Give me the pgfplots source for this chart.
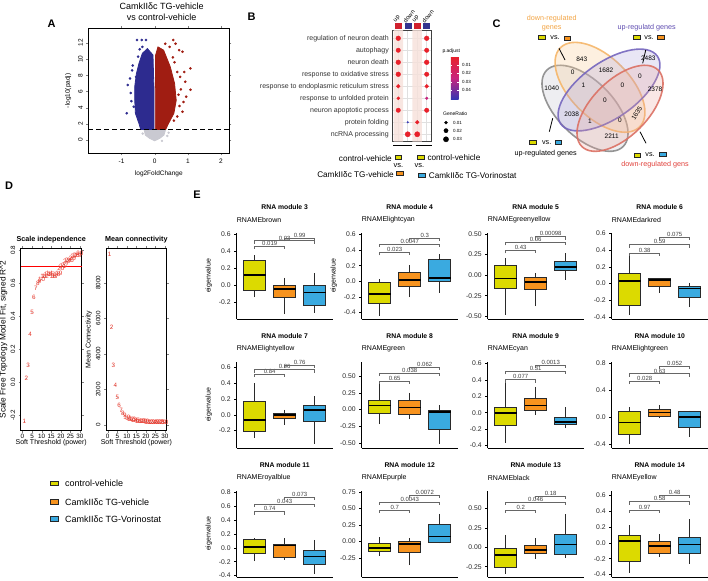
\documentclass[border=0pt]{standalone}
\usepackage{fontspec}
\setmainfont{Liberation Sans}
\usepackage{pgfplots}
\pgfplotsset{compat=1.18}
\usepgfplotslibrary{statistics}

\newcommand{\fsz}[1]{\fontsize{#1}{#1}\selectfont}

\definecolor{cy}{HTML}{DCDA00}
\definecolor{co}{HTML}{F7931E}
\definecolor{cb}{HTML}{3AAAE0}
\definecolor{boxl}{HTML}{2A2A2A}
\definecolor{vblue}{HTML}{2D2B8F}
\definecolor{vred}{HTML}{A01D12}
\definecolor{vgrey}{HTML}{C9C9D1}
\definecolor{dred}{HTML}{E8202A}
\definecolor{dmag}{HTML}{C8247E}
\definecolor{dblu}{HTML}{3C3CB8}
\definecolor{hred}{HTML}{D0202E}
\definecolor{hblu}{HTML}{34348F}
\definecolor{stripe}{HTML}{F6E0DA}
\definecolor{vgl}{HTML}{8A8A8A}
\definecolor{vgf}{HTML}{C8C8D2}
\definecolor{vol}{HTML}{F5B669}
\definecolor{vof}{HTML}{F8CC98}
\definecolor{vpl}{HTML}{7566BE}
\definecolor{vpf}{HTML}{A79BD8}
\definecolor{vrl}{HTML}{DB7063}
\definecolor{vrf}{HTML}{EBA49A}
\definecolor{tor}{HTML}{F2A444}
\definecolor{tpu}{HTML}{5E4CB0}
\definecolor{tre}{HTML}{E0403A}
\definecolor{wred}{HTML}{EA3A2E}

\pgfplotsset{
  /pgf/number format/assume math mode=true,
  eplot/.style={scale only axis, width=96pt, height=86pt, xmin=0.4, xmax=3.6,
    axis x line*=bottom, axis y line*=left, xtick=\empty,
    axis line style={line width=0.9pt, black},
    tick style={black, line width=0.6pt}, major tick length=2.5pt, tick align=outside,
    yticklabel style={font=\fsz{6.8}, text=black!85}, ylabel style={font=\fsz{7}},
    clip=false, boxplot/draw direction=y, boxplot/every median/.style={black, line width=1.6pt}},
  p1/.style={yticklabel style={/pgf/number format/fixed, /pgf/number format/fixed zerofill, /pgf/number format/precision=1}},
  p2/.style={yticklabel style={/pgf/number format/fixed, /pgf/number format/fixed zerofill, /pgf/number format/precision=2}},
  brk/.style={draw=black!60, line width=0.5pt, mark=none},
}
\tikzset{brlab/.style={font=\fsz{6}, text=black!75, anchor=south, inner sep=0.4pt},
  key/.style={draw=black!85, line width=0.7pt, fill=#1, minimum width=6.5pt, minimum height=4pt, inner sep=0pt},
  bigkey/.style={draw=black!85, line width=0.8pt, fill=#1, minimum width=8pt, minimum height=4.6pt, inner sep=0pt}}

\newcommand{\bx}[7]{\addplot[boxplot prepared={draw direction=y, draw position=#1, lower whisker=#2, lower quartile=#3, median=#4, upper quartile=#5, upper whisker=#6, box extend=0.73, whisker extend=0}, draw=boxl, fill=#7, line width=0.8pt] coordinates {};}
\newcommand{\br}[5]{%
  \pgfmathsetmacro\brlo{#3-#5}%
  \edef\brtmp{\noexpand\addplot[brk] coordinates {(#1,\brlo) (#1,#3) (#2,#3) (#2,\brlo)};}%
  \brtmp
  \node[brlab] at (axis cs:{(#1+#2)/2},#3) {#4};}
\newcommand{\etitle}[2]{%
  \node[font=\bfseries\fsz{6.8}, yshift=25.5pt] at (rel axis cs:0.5,1) {RNA module #1};
  \node[font=\fsz{7}, anchor=west, inner sep=0pt, yshift=13.5pt] at (rel axis cs:0,1) {RNAME#2};}

\begin{document}
\begin{tikzpicture}
\useasboundingbox (0,0) rectangle (708pt,-580pt);

% ================= A =================
\node[font=\bfseries\fsz{11}] at (51.7pt,-23.3pt) {A};
\node[font=\fsz{9}] at (161.7pt,-6pt) {CamkIIδc TG-vehicle};
\node[font=\fsz{9}] at (161.7pt,-17pt) {vs control-vehicle};
\begin{axis}[at={(88.3pt,-153.3pt)}, anchor=south west, scale only axis, width=141pt, height=125pt,
  xmin=-2.0, xmax=2.25, ymin=-1.64, ymax=13.8, xtick={-1,0,1,2}, ytick={0,2,4,6,8,10,12},
  tick align=outside, major tick length=2pt, ticklabel style={font=\fsz{6.5}},
  yticklabel style={rotate=90, anchor=south}, xlabel={log2FoldChange}, ylabel={-log10(padj)},
  label style={font=\fsz{6.5}}, axis line style={line width=0.6pt}, clip=false]
\addplot[fill=vgrey, draw=vgrey, line width=0.8pt] coordinates {(-0.32,1.3) (-0.28,0.6) (-0.15,0.2) (0,-0.1) (0.15,0.2) (0.28,0.6) (0.33,1.3) (-0.32,1.3)};
\addplot[only marks, mark=*, mark size=1.0pt, vgrey] coordinates {(0.42,0.9) (0.38,0.5) (-0.36,0.8) (0.22,-0.1)};
\addplot[fill=vblue, draw=vblue, line width=0.8pt] coordinates {(-0.02,1.3) (-0.42,1.3) (-0.47,2.0) (-0.58,3.3) (-0.6,4.9) (-0.6,6.6) (-0.55,8.2) (-0.47,9.5) (-0.37,10.7) (-0.22,11.3) (-0.05,10.5) (-0.02,6) (-0.02,1.3)};
\addplot[fill=vred, draw=vred, line width=0.8pt] coordinates {(0.02,1.3) (0.33,1.3) (0.42,2.06) (0.58,3.3) (0.65,4.9) (0.6,7.0) (0.47,9.05) (0.27,11.1) (0.1,11.5) (0.03,10.5) (0.02,6) (0.02,1.3)};
\addplot[only marks, mark=*, mark size=1.1pt, vblue] coordinates {(-0.84,3.3) (-0.81,6.8) (-0.74,7.6) (-0.68,8.6) (-0.72,5.8) (-0.63,4.1) (-0.53,12.35) (-0.39,12.35) (-0.26,12.35) (-0.37,11.5) (-0.26,10.9) (-0.56,7.8) (-0.66,9.2) (-0.5,10.3) (-0.7,4.8) (-0.45,11.2)};
\addplot[only marks, mark=*, mark size=1.1pt, vred] coordinates {(1.08,8.85) (1.08,6.2) (0.95,5.35) (0.87,4.7) (0.84,3.5) (0.79,6.25) (0.89,8.4) (0.68,8.4) (0.63,11.9) (0.56,12.35) (0.32,11.9) (0.74,11.1) (0.84,10.9) (0.77,7.8) (0.68,2.9) (0.58,2.4) (0.92,7.2) (0.45,11.5) (0.55,10.2) (0.72,5.6) (0.75,4.2) (0.6,9.6)};
\addplot[black, dash pattern=on 5pt off 3pt, line width=1.3pt] coordinates {(-2.0,1.3) (2.25,1.3)};
\end{axis}

% ================= B =================
\node[font=\bfseries\fsz{11}] at (251.7pt,-16.7pt) {B};
\begin{axis}[at={(392.3pt,-141.7pt)}, anchor=south west, scale only axis, width=39.4pt, height=111.7pt,
  xmin=0.37, xmax=4.53, ymin=0.31, ymax=9.62, y dir=reverse,
  xtick={1,2,3,4}, xticklabels={,,,}, ytick={1,2,3,4,5,6,7,8,9},
  yticklabels={regulation of neuron death, autophagy, neuron death, response to oxidative stress, response to endoplasmic reticulum stress, response to unfolded protein, neuron apoptotic process, protein folding, ncRNA processing},
  yticklabel style={font=\fsz{7}, text=black!80}, major tick length=0pt,
  grid=major, grid style={black!12, line width=0.5pt}, axis line style={black!75, line width=0.7pt}, clip=false]
\addplot[fill=stripe, draw=none, fill opacity=0.8] coordinates {(0.5,0.31) (1.5,0.31) (1.5,9.62) (0.5,9.62) (0.5,0.31)};
\addplot[fill=stripe, draw=none, fill opacity=0.8] coordinates {(2.5,0.31) (3.5,0.31) (3.5,9.62) (2.5,9.62) (2.5,0.31)};
\addplot[only marks, mark=*, mark size=2.35pt, dred] coordinates {(1,1) (4,1) (1,3) (1,4) (4,3)};
\addplot[only marks, mark=*, mark size=2.2pt, dred] coordinates {(1,2) (4,2) (4,4) (1,7) (4,7)};
\addplot[only marks, mark=*, mark size=1.9pt, dred] coordinates {(1,5) (4,5) (3,8)};
\addplot[only marks, mark=*, mark size=1.5pt, dred] coordinates {(1,6)};
\addplot[only marks, mark=*, mark size=1.3pt, dmag] coordinates {(4,6)};
\addplot[only marks, mark=*, mark size=0.75pt, dblu] coordinates {(2,8)};
\addplot[only marks, mark=*, mark size=2.6pt, dred] coordinates {(2,9) (3,9)};
% header keys
\addplot[only marks, mark=square*, mark size=3pt, mark options={yscale=0.75, draw=hred}, hred] coordinates {(1,-0.05) (3,-0.05)};
\addplot[only marks, mark=square*, mark size=3pt, mark options={yscale=0.75, draw=hblu}, hblu] coordinates {(2,-0.05) (4,-0.05)};
\node[rotate=50, anchor=south west, font=\fsz{6}, inner sep=0.3pt, xshift=-2.5pt] at (axis cs:1,-0.35) {up};
\node[rotate=50, anchor=south west, font=\fsz{6}, inner sep=0.3pt, xshift=-2.5pt] at (axis cs:2,-0.35) {down};
\node[rotate=50, anchor=south west, font=\fsz{6}, inner sep=0.3pt, xshift=-2.5pt] at (axis cs:3,-0.35) {up};
\node[rotate=50, anchor=south west, font=\fsz{6}, inner sep=0.3pt, xshift=-2.5pt] at (axis cs:4,-0.35) {down};
% underlines
\addplot[black, line width=1.1pt] coordinates {(0.47,9.95) (2.42,9.95)};
\addplot[black, line width=1.1pt] coordinates {(2.84,9.95) (4.53,9.95)};
% GeneRatio legend
\addplot[only marks, mark=*, mark size=1.5pt, black] coordinates {(6.04,8.03)};
\addplot[only marks, mark=*, mark size=2.1pt, black] coordinates {(6.04,8.7)};
\addplot[only marks, mark=*, mark size=2.6pt, black] coordinates {(6.04,9.42)};
\end{axis}
\begin{axis}[at={(442.3pt,-56.7pt)}, anchor=north west, scale only axis, width=7.7pt, height=42.6pt,
  axis line style={draw=none}, xtick=\empty, ytick=\empty, xmin=0, xmax=1, ymin=0, ymax=1,
  colorbar, colormap={padj}{rgb255=(232,32,42) rgb255=(200,36,126) rgb255=(52,52,178)},
  point meta min=0, point meta max=0.051,
  colorbar style={at={(parent axis.north west)}, anchor=north west, xshift=0pt, yshift=0pt,
    width=7.7pt, height=42.6pt, scale only axis, y dir=reverse, scaled y ticks=false,
    ytick={0.01,0.02,0.03,0.04}, yticklabels={0.01,0.02,0.03,0.04},
    yticklabel style={font=\fsz{4.5}}, major tick length=1.5pt, tick style={white, line width=0.5pt},
    axis line style={draw=none}}]
\addplot[draw=none] coordinates {(0,0) (1,1)};
\end{axis}
\node[font=\fsz{5}, anchor=west, inner sep=0pt] at (442.3pt,-51.7pt) {p.adjust};
\node[font=\fsz{5}, anchor=west, inner sep=0pt] at (443pt,-113.3pt) {GeneRatio};
\node[font=\fsz{4.5}, anchor=west, inner sep=0pt] at (453pt,-122.7pt) {0.01};
\node[font=\fsz{4.5}, anchor=west, inner sep=0pt] at (453pt,-130.7pt) {0.02};
\node[font=\fsz{4.5}, anchor=west, inner sep=0pt] at (453pt,-139.3pt) {0.03};
% B legend
\node[font=\fsz{8.2}, anchor=east, inner sep=0pt] at (392pt,-158.7pt) {control-vehicle};
\node[key=cy] at (398.3pt,-157.7pt) {};
\node[font=\fsz{7.5}, inner sep=0pt] at (398.5pt,-165.7pt) {vs.};
\node[font=\fsz{8.2}, anchor=east, inner sep=0pt] at (394pt,-174.3pt) {CamkIIδc TG-vehicle};
\node[key=co] at (400pt,-173.5pt) {};
\node[key=cy] at (420.7pt,-156.9pt) {};
\node[font=\fsz{8.2}, anchor=west, inner sep=0pt] at (427.3pt,-157.9pt) {control-vehicle};
\node[font=\fsz{7.5}, inner sep=0pt] at (419.5pt,-165.3pt) {vs.};
\node[key=cb] at (421.7pt,-175pt) {};
\node[font=\fsz{8.2}, anchor=west, inner sep=0pt] at (428.7pt,-175.3pt) {CamkIIδc TG-Vorinostat};

% ================= C =================
\node[font=\bfseries\fsz{11}] at (496.7pt,-23.3pt) {C};
\begin{axis}[at={(480pt,-180pt)}, anchor=south west, scale only axis, width=228pt, height=180pt,
  xmin=480, xmax=708, ymin=0, ymax=180, y dir=reverse, hide axis, clip=false]
\addplot[draw=none] coordinates {(480,0) (708,180)};
\draw[vgl, fill=vgf, fill opacity=0.3, draw opacity=0.9, line width=1.6pt, rotate around={-45:(axis cs:585,108.3)}] (axis cs:585,108.3) ellipse [x radius=54pt, y radius=28pt];
\draw[vol, fill=vof, fill opacity=0.3, draw opacity=0.9, line width=1.6pt, rotate around={-45:(axis cs:600,87.3)}] (axis cs:600,87.3) ellipse [x radius=56pt, y radius=30pt];
\draw[vpl, fill=vpf, fill opacity=0.25, draw opacity=0.9, line width=1.6pt, rotate around={35:(axis cs:609,90)}] (axis cs:609,90) ellipse [x radius=59pt, y radius=28pt];
\draw[vrl, fill=vrf, fill opacity=0.25, draw opacity=0.9, line width=1.6pt, rotate around={45:(axis cs:620,108.3)}] (axis cs:620,108.3) ellipse [x radius=54pt, y radius=28pt];
\begin{scope}[every node/.style={font=\fsz{6.5}, inner sep=0pt}]
\node at (axis cs:581.7,59.3) {843};
\node at (axis cs:606,70) {1682};
\node at (axis cs:648.3,58.3) {2483};
\node at (axis cs:572.7,72.7) {0};
\node at (axis cs:640,76) {0};
\node at (axis cs:551.7,88.3) {1040};
\node at (axis cs:583.3,85) {1};
\node at (axis cs:622.3,85) {0};
\node at (axis cs:655,89.3) {2378};
\node at (axis cs:605,100) {0};
\node at (axis cs:571.7,114) {2038};
\node[rotate=58] at (axis cs:636.7,113.3) {1635};
\node at (axis cs:590,121) {1};
\node at (axis cs:620,120.7) {0};
\node at (axis cs:611.7,136.7) {2211};
\end{scope}
\draw[black, line width=0.8pt] (axis cs:559,48.3) -- (axis cs:565,60);
\draw[black, line width=0.8pt] (axis cs:645.7,50) -- (axis cs:642.7,63.3);
\draw[black, line width=0.8pt] (axis cs:552.7,118.3) -- (axis cs:549.3,131.7);
\draw[black, line width=0.8pt] (axis cs:640,131.7) -- (axis cs:646,143.3);
\node[font=\fsz{7.2}, text=tor, inner sep=0pt] at (axis cs:551.7,19) {down-regulated};
\node[font=\fsz{7.2}, text=tor, inner sep=0pt] at (axis cs:551.7,28.3) {genes};
\node[key=cy] at (axis cs:541.7,37.7) {};
\node[font=\fsz{7.2}, inner sep=0pt] at (axis cs:555,37.7) {vs.};
\node[key=co] at (axis cs:567.3,38.3) {};
\node[font=\fsz{7.2}, text=tpu, inner sep=0pt] at (axis cs:646.7,27.7) {up-regulatd genes};
\node[key=cy] at (axis cs:636.7,37.7) {};
\node[font=\fsz{7.2}, inner sep=0pt] at (axis cs:649,37.7) {vs.};
\node[key=co] at (axis cs:660.7,37.7) {};
\node[key=cy] at (axis cs:532.7,142.7) {};
\node[font=\fsz{7.2}, inner sep=0pt] at (axis cs:546.7,142.7) {vs.};
\node[key=cb] at (axis cs:558.3,142.3) {};
\node[font=\fsz{7.2}, inner sep=0pt] at (axis cs:545.7,154) {up-regulated genes};
\node[key=cy] at (axis cs:637.3,155) {};
\node[font=\fsz{7.2}, inner sep=0pt] at (axis cs:650,155) {vs.};
\node[key=cb] at (axis cs:662.7,154.3) {};
\node[font=\fsz{7.2}, text=tre, inner sep=0pt] at (axis cs:655,165) {down-regulated gens};
\end{axis}

% ================= D =================
\node[font=\bfseries\fsz{11}] at (9pt,-186pt) {D};
\begin{axis}[at={(20.7pt,-430.7pt)}, anchor=south west, scale only axis, width=61pt, height=182.4pt,
  xmin=-0.9, xmax=30.9, ymin=-0.295, ymax=0.81, xtick={0,5,10,15,20,25,30}, ytick={-0.2,0,0.2,0.4,0.6,0.8},
  tick align=outside, major tick length=2pt, ticklabel style={font=\fsz{6.3}},
  yticklabel style={rotate=90, anchor=south, /pgf/number format/fixed, /pgf/number format/fixed zerofill, /pgf/number format/precision=1},
  xticklabel style={inner sep=1pt},
  axis line style={line width=0.6pt}, xlabel={Soft Threshold (power)}, ylabel={Scale Free Topology Model Fit, signed R\textasciicircum 2},
  xlabel style={font=\fsz{7}, yshift=3pt}, ylabel style={font=\fsz{8.3}, yshift=-3.5pt},
  title={\bfseries Scale independence}, title style={font=\fsz{7.2}, yshift=-4pt}, clip=false]
\addplot[red, line width=0.8pt] coordinates {(-0.9,0.7) (30.9,0.7)};
\addplot[only marks, mark=*, mark size=0.01pt, mark options={draw=none, fill=none}, point meta=x,
  nodes near coords, every node near coord/.append style={anchor=center, font=\fsz{6.3}, text=wred, inner sep=0pt}] coordinates {
(1,-0.24) (2,0.02) (3,0.10) (4,0.29) (5,0.42) (6,0.51) (7,0.57) (8,0.60) (9,0.61) (10,0.62)
(11,0.64) (12,0.64) (13,0.65) (14,0.66) (15,0.65) (16,0.64) (17,0.64) (18,0.65) (19,0.66) (20,0.69)
(21,0.70) (22,0.71) (23,0.73) (24,0.74) (25,0.74) (26,0.75) (27,0.76) (28,0.77) (29,0.77) (30,0.78)};
\end{axis}
\begin{axis}[at={(106pt,-430.7pt)}, anchor=south west, scale only axis, width=60.7pt, height=182.4pt,
  xmin=-0.9, xmax=30.9, ymin=-320, ymax=9950, xtick={0,5,10,15,20,25,30}, ytick={0,2000,4000,6000,8000},
  scaled y ticks=false, tick align=outside, major tick length=2pt, ticklabel style={font=\fsz{6.3}},
  yticklabel style={rotate=90, anchor=south, /pgf/number format/1000 sep={}},
  xticklabel style={inner sep=1pt},
  axis line style={line width=0.6pt}, xlabel={Soft Threshold (power)}, ylabel={Mean Connectivity},
  xlabel style={font=\fsz{7}, yshift=3pt}, ylabel style={font=\fsz{7}, yshift=-3pt},
  title={\bfseries Mean connectivity}, title style={font=\fsz{7.2}, yshift=-4pt}, clip=false]
\addplot[only marks, mark=*, mark size=0.01pt, mark options={draw=none, fill=none}, point meta=x,
  nodes near coords, every node near coord/.append style={anchor=center, font=\fsz{6.3}, text=wred, inner sep=0pt}] coordinates {
(1,9630) (2,5500) (3,3380) (4,2215) (5,1560) (6,1130) (7,850) (8,660) (9,530) (10,440)
(11,375) (12,330) (13,295) (14,268) (15,245) (16,228) (17,212) (18,200) (19,190) (20,180)
(21,172) (22,165) (23,158) (24,152) (25,147) (26,142) (27,138) (28,135) (29,132) (30,130)};
\end{axis}

% legend for E
\node[bigkey=cy] at (54.3pt,-483.3pt) {};
\node[font=\fsz{9}, anchor=west, inner sep=0pt] at (65pt,-483.6pt) {control-vehicle};
\node[bigkey=co] at (54.3pt,-501.7pt) {};
\node[font=\fsz{9}, anchor=west, inner sep=0pt] at (65pt,-502pt) {CamkIIδc TG-vehicle};
\node[bigkey=cb] at (54.3pt,-519pt) {};
\node[font=\fsz{9}, anchor=west, inner sep=0pt] at (65pt,-519.3pt) {CamkIIδc TG-Vorinostat};

% ================= E =================
\node[font=\bfseries\fsz{11}] at (197pt,-195pt) {E};

\begin{axis}[eplot, p1, at={(236.7pt,-319pt)}, anchor=south west, ymin=-0.40, ymax=0.61, ytick={-0.2,0,0.2,0.4,0.6}, ylabel={eigenvalue}]
\etitle{3}{brown}
\bx{1}{-0.147}{-0.064}{0.117}{0.287}{0.35}{cy}
\bx{2}{-0.347}{-0.151}{-0.045}{-0.011}{0.087}{co}
\bx{3}{-0.328}{-0.245}{-0.087}{-0.011}{0.143}{cb}
\br{1}{2}{0.457}{0.019}{0.035}
\br{1}{3}{0.52}{0.03}{0.035}
\br{2}{3}{0.547}{0.99}{0.035}
\end{axis}

\begin{axis}[eplot, p1, at={(361.7pt,-319pt)}, anchor=south west, ymin=-0.485, ymax=0.62, ytick={-0.4,-0.2,0,0.2,0.4,0.6}, ylabel={eigenvalue}]
\etitle{4}{lightcyan}
\bx{1}{-0.442}{-0.283}{-0.163}{-0.013}{0.026}{cy}
\bx{2}{-0.206}{-0.06}{0.017}{0.116}{0.21}{co}
\bx{3}{-0.146}{0.004}{0.039}{0.275}{0.348}{cb}
\br{1}{2}{0.373}{0.023}{0.039}
\br{1}{3}{0.48}{0.0047}{0.039}
\br{2}{3}{0.554}{0.3}{0.039}
\end{axis}

\begin{axis}[eplot, p2, at={(487.7pt,-319pt)}, anchor=south west, ymin=-0.533, ymax=0.512, ytick={-0.5,-0.25,0,0.25,0.5}]
\etitle{5}{greenyellow}
\bx{1}{-0.48}{-0.164}{-0.041}{0.123}{0.205}{cy}
\bx{2}{-0.381}{-0.176}{-0.082}{-0.033}{0.029}{co}
\bx{3}{-0.061}{0.061}{0.098}{0.172}{0.266}{cb}
\br{1}{2}{0.30}{0.43}{0.037}
\br{1}{3}{0.40}{0.06}{0.037}
\br{2}{3}{0.47}{0.00098}{0.037}
\end{axis}

\begin{axis}[eplot, p1, at={(611.7pt,-319pt)}, anchor=south west, ymin=-0.423, ymax=0.605, ytick={-0.4,-0.2,0,0.2,0.4,0.6}]
\etitle{6}{darkred}
\bx{1}{-0.375}{-0.257}{0.032}{0.123}{0.348}{cy}
\bx{2}{-0.115}{-0.036}{0.04}{0.059}{0.062}{co}
\bx{3}{-0.285}{-0.17}{-0.059}{-0.028}{0.012}{cb}
\br{1}{2}{0.368}{0.38}{0.036}
\br{1}{3}{0.466}{0.59}{0.036}
\br{2}{3}{0.557}{0.075}{0.036}
\end{axis}

\begin{axis}[eplot, p1, at={(236.7pt,-448pt)}, anchor=south west, ymin=-0.42, ymax=0.67, ytick={-0.2,0,0.2,0.4,0.6}, ylabel={eigenvalue}]
\etitle{7}{lightyellow}
\bx{1}{-0.296}{-0.207}{-0.064}{0.174}{0.40}{cy}
\bx{2}{-0.125}{-0.051}{-0.004}{0.013}{0.068}{co}
\bx{3}{-0.367}{-0.085}{0.064}{0.123}{0.234}{cb}
\br{1}{2}{0.515}{0.84}{0.038}
\br{1}{3}{0.574}{0.96}{0.038}
\br{2}{3}{0.626}{0.76}{0.038}
\end{axis}

\begin{axis}[eplot, p2, at={(361.7pt,-448pt)}, anchor=south west, ymin=-0.576, ymax=0.715, ytick={-0.5,-0.25,0,0.25,0.5}]
\etitle{8}{green}
\bx{1}{-0.22}{-0.06}{0.065}{0.14}{0.40}{cy}
\bx{2}{-0.145}{-0.07}{0.03}{0.14}{0.255}{co}
\bx{3}{-0.51}{-0.29}{-0.035}{-0.015}{0.065}{cb}
\br{1}{2}{0.43}{0.65}{0.045}
\br{1}{3}{0.55}{0.038}{0.045}
\br{2}{3}{0.64}{0.062}{0.045}
\end{axis}

\begin{axis}[eplot, p1, at={(487.7pt,-448pt)}, anchor=south west, ymin=-0.43, ymax=0.62, ytick={-0.4,-0.2,0,0.2,0.4,0.6}]
\etitle{9}{cyan}
\bx{1}{-0.363}{-0.155}{0.0}{0.062}{0.364}{cy}
\bx{2}{-0.03}{0.025}{0.091}{0.174}{0.32}{co}
\bx{3}{-0.19}{-0.147}{-0.116}{-0.062}{0.07}{cb}
\br{1}{2}{0.405}{0.077}{0.037}
\br{1}{3}{0.505}{0.31}{0.037}
\br{2}{3}{0.58}{0.0013}{0.037}
\end{axis}

\begin{axis}[eplot, p1, at={(611.7pt,-448pt)}, anchor=south west, ymin=-0.453, ymax=0.815, ytick={-0.4,0,0.4,0.8}]
\etitle{10}{lightgreen}
\bx{1}{-0.396}{-0.246}{-0.077}{0.094}{0.148}{cy}
\bx{2}{-0.015}{0.02}{0.069}{0.119}{0.183}{co}
\bx{3}{-0.294}{-0.15}{0.0}{0.084}{0.099}{cb}
\br{1}{2}{0.533}{0.028}{0.043}
\br{1}{3}{0.642}{0.63}{0.043}
\br{2}{3}{0.75}{0.052}{0.043}
\end{axis}

\begin{axis}[eplot, p1, at={(236.7pt,-577pt)}, anchor=south west, ymin=-0.42, ymax=0.82, ytick={-0.4,-0.2,0,0.2,0.4,0.6,0.8}, ylabel={eigenvalue}]
\etitle{11}{royalblue}
\bx{1}{-0.196}{-0.084}{0.009}{0.117}{0.14}{cy}
\bx{2}{-0.173}{-0.14}{0.037}{0.056}{0.14}{co}
\bx{3}{-0.374}{-0.243}{-0.126}{-0.033}{0.117}{cb}
\br{1}{2}{0.523}{0.74}{0.042}
\br{1}{3}{0.63}{0.043}{0.042}
\br{2}{3}{0.734}{0.073}{0.042}
\end{axis}

\begin{axis}[eplot, p2, at={(361.7pt,-577pt)}, anchor=south west, ymin=-0.535, ymax=0.765, ytick={-0.25,0,0.25,0.5,0.75}]
\etitle{12}{purple}
\bx{1}{-0.21}{-0.15}{-0.095}{-0.02}{0.065}{cy}
\bx{2}{-0.36}{-0.16}{-0.035}{0.0}{0.055}{co}
\bx{3}{-0.025}{-0.01}{0.075}{0.265}{0.425}{cb}
\br{1}{2}{0.475}{0.7}{0.045}
\br{1}{3}{0.60}{0.0043}{0.045}
\br{2}{3}{0.705}{0.0072}{0.045}
\end{axis}

\begin{axis}[eplot, p2, at={(487.7pt,-577pt)}, anchor=south west, ymin=-0.383, ymax=0.724, ytick={-0.25,0,0.25,0.5}]
\etitle{13}{black}
\bx{1}{-0.34}{-0.264}{-0.098}{-0.009}{0.162}{cy}
\bx{2}{-0.149}{-0.085}{-0.034}{0.021}{0.115}{co}
\bx{3}{-0.141}{-0.098}{0.034}{0.17}{0.426}{cb}
\br{1}{2}{0.48}{0.2}{0.038}
\br{1}{3}{0.584}{0.046}{0.038}
\br{2}{3}{0.66}{0.18}{0.038}
\end{axis}

\begin{axis}[eplot, p1, at={(611.7pt,-577pt)}, anchor=south west, ymin=-0.43, ymax=0.654, ytick={-0.4,-0.2,0,0.2,0.4,0.6}]
\etitle{14}{yellow}
\bx{1}{-0.375}{-0.229}{0.021}{0.092}{0.225}{cy}
\bx{2}{-0.179}{-0.129}{-0.042}{0.017}{0.112}{co}
\bx{3}{-0.263}{-0.129}{-0.021}{0.071}{0.30}{cb}
\br{1}{2}{0.417}{0.97}{0.0375}
\br{1}{3}{0.52}{0.58}{0.0375}
\br{2}{3}{0.604}{0.48}{0.0375}
\end{axis}

\end{tikzpicture}
\end{document}
